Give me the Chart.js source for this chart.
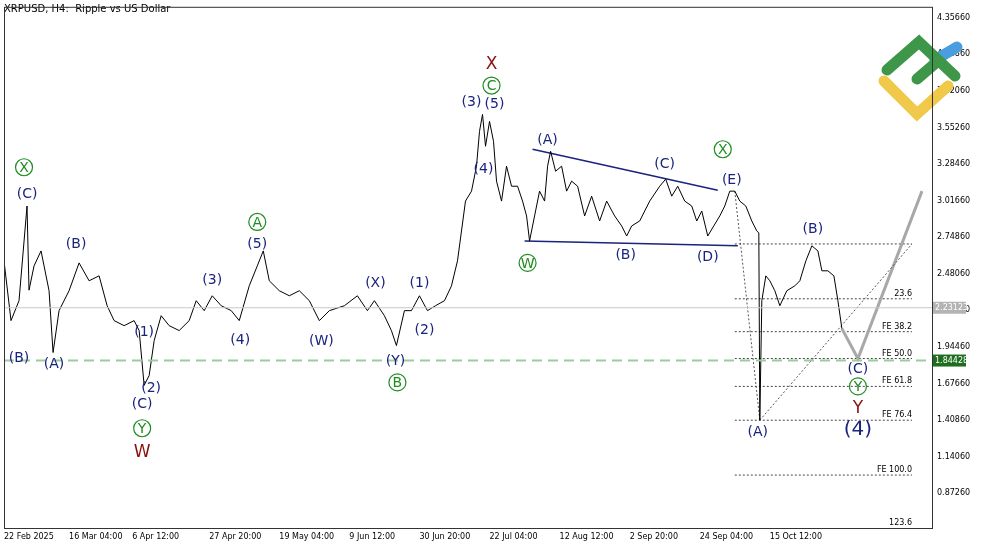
<!DOCTYPE html>
<html><head><meta charset="utf-8">
<script src="https://cdn.jsdelivr.net/npm/chart.js@4.4.1/dist/chart.umd.min.js"></script>
<style>html,body{margin:0;background:#fff}#wrap{width:1000px;height:545px}</style>
</head><body><div id="wrap"><canvas id="c"></canvas></div>
<script>
// price path (x = bar column, y = price)
const priceX = [5,12,20,28,30,35,42,50,54,60,70,80,90,100,108,115,125,135,140,145,150,155,162,170,180,190,197,205,213,222,232,240,250,258,264,270,280,290,300,310,320,330,345,358,368,375,385,392,397,405,412,420,428,436,445,452,458,462,466,472,477,480,483,486,490,494,497,502,507,512,518,523,527,530,535,540,545,548,551,556,562,567,572,578,585,592,600,607,615,622,627,632,640,650,660,666,672,678,685,692,697,702,708,714,720,725,730,735,740,746,752,757,759,760,762,766,770,775,780,787,795,800,806,812,818,822,828,834,838,842];
const priceY = [2.575,2.137,2.283,2.977,2.360,2.538,2.648,2.356,1.903,2.210,2.356,2.560,2.429,2.465,2.246,2.137,2.100,2.137,2.064,1.662,1.735,1.991,2.173,2.100,2.064,2.137,2.283,2.210,2.319,2.246,2.210,2.137,2.392,2.538,2.648,2.429,2.356,2.319,2.356,2.283,2.137,2.210,2.246,2.319,2.210,2.283,2.173,2.064,1.954,2.210,2.210,2.319,2.210,2.246,2.283,2.392,2.575,2.794,3.013,3.086,3.269,3.524,3.648,3.415,3.597,3.451,3.159,3.013,3.269,3.122,3.122,3.013,2.904,2.721,2.904,3.086,3.013,3.269,3.378,3.232,3.269,3.086,3.159,3.122,2.904,3.049,2.867,3.013,2.904,2.831,2.757,2.831,2.867,3.013,3.122,3.174,3.049,3.122,3.013,2.977,2.867,2.940,2.757,2.831,2.904,2.977,3.086,3.086,3.013,2.977,2.867,2.794,2.780,1.407,2.283,2.465,2.429,2.356,2.246,2.356,2.392,2.429,2.575,2.685,2.648,2.502,2.502,2.465,2.283,2.078];

const yTicks = [0.87260,1.14060,1.40860,1.67660,1.94460,2.21260,2.48060,2.74860,3.01660,3.28460,3.55260,3.82060,4.08860,4.35660];
const xTickPos = [5,70,133,210,280,350,420,490,560,630,700,770];
const xTickText = ['22 Feb 2025','16 Mar 04:00','6 Apr 12:00','27 Apr 20:00','19 May 04:00','9 Jun 12:00','30 Jun 20:00','22 Jul 04:00','12 Aug 12:00','2 Sep 20:00','24 Sep 04:00','15 Oct 12:00'];

const fibLevels = [2.699,2.297,2.056,1.859,1.655,1.407,1.005];
const fibNames = ['','23.6','FE 38.2','FE 50.0','FE 61.8','FE 76.4','FE 100.0'];
const bidPrice = 2.23123, linePrice = 1.84428;

// wave labels: [text, x, price, kind]  kind: n=navy, c=circled green, r=red, b=big navy
const waveLabels = [
  ['X',25,3.261,'c'],['(C)',28,3.071,'n'],['(B)',20,1.867,'n'],['(A)',55,1.823,'n'],['(B)',77,2.706,'n'],
  ['(1)',145,2.056,'n'],['(2)',152,1.647,'n'],['(C)',143,1.531,'n'],['Y',143,1.348,'c'],['W',143,1.180,'r'],
  ['(3)',213,2.443,'n'],['(4)',241,1.998,'n'],['A',258,2.860,'c'],['(5)',258,2.706,'n'],
  ['(W)',322,1.991,'n'],['(X)',376,2.414,'n'],['(1)',420,2.414,'n'],['(2)',425,2.071,'n'],['(Y)',396,1.844,'n'],['B',398,1.684,'c'],
  ['(3)',472,3.743,'n'],['(5)',495,3.729,'n'],['C',492,3.860,'c'],['X',492,4.021,'r'],['(4)',484,3.254,'n'],
  ['W',528,2.560,'c'],['(A)',548,3.466,'n'],['(B)',626,2.626,'n'],['(C)',665,3.290,'n'],['X',723,3.393,'c'],
  ['(E)',732,3.174,'n'],['(D)',708,2.611,'n'],['(B)',813,2.816,'n'],['(A)',758,1.326,'n'],
  ['(C)',858,1.786,'n'],['Y',858,1.655,'c'],['Y',858,1.501,'r'],['(4)',858,1.341,'b']
];

const line = (pts, color, width, dash) => ({type:'line', data:pts, borderColor:color, borderWidth:width, borderDash:dash||[], pointRadius:0, tension:0, fill:false});

const datasets = [
  line([{x:5,y:bidPrice},{x:932,y:bidPrice}], '#c8c8c8', 1),
  line([{x:5,y:linePrice},{x:932,y:linePrice}], '#9ccc9c', 2, [10,6]),
  line(priceX.map((x,i)=>({x, y:priceY[i]})), '#000', 1),
  line([{x:533,y:3.393},{x:718,y:3.093}], '#1a237e', 1.5),
  line([{x:525,y:2.721},{x:738,y:2.685}], '#1a237e', 1.5),
  line([{x:735,y:3.086},{x:760,y:1.407}], '#555', 1, [2,2]),
  line([{x:760,y:1.407},{x:912,y:2.699}], '#555', 1, [2,2]),
  line([{x:842,y:2.078},{x:858,y:1.859},{x:922,y:3.086}], '#a8a8a8', 3)
];
fibLevels.forEach(v => datasets.push(line([{x:735,y:v},{x:912,y:v}], '#444', 1, [2,2])));

const overlay = {
  id:'overlay',
  afterDraw(chart) {
    const {ctx, scales:{x, y}, chartArea:a} = chart;
    ctx.save();
    ctx.font = '10px "DejaVu Sans", sans-serif';
    ctx.fillStyle = '#000';
    ctx.textBaseline = 'top';
    ctx.fillText('XRPUSD, H4:  Ripple vs US Dollar', 4, 4);
    // fib labels
    ctx.font = '8px "DejaVu Sans", sans-serif';
    ctx.textAlign = 'right'; ctx.textBaseline = 'bottom';
    fibLevels.forEach((v,i) => ctx.fillText(fibNames[i], 912, y.getPixelForValue(v) - 1));
    ctx.fillText('123.6', 912, a.bottom - 1);
    // wave labels
    ctx.textAlign = 'center'; ctx.textBaseline = 'middle';
    waveLabels.forEach(([t, xv, pv, k]) => {
      const px = x.getPixelForValue(xv), py = y.getPixelForValue(pv);
      if (k === 'c') {
        ctx.strokeStyle = '#1e8c1e'; ctx.lineWidth = 1.2;
        ctx.beginPath(); ctx.arc(px, py, 8.5, 0, Math.PI*2); ctx.stroke();
        ctx.fillStyle = '#1e8c1e'; ctx.font = '14px "DejaVu Sans", sans-serif';
      } else if (k === 'r') {
        ctx.fillStyle = '#8b1010'; ctx.font = '17px "DejaVu Sans", sans-serif';
      } else if (k === 'b') {
        ctx.fillStyle = '#1a237e'; ctx.font = '20px "DejaVu Sans", sans-serif';
      } else {
        ctx.fillStyle = '#1a237e'; ctx.font = '14px "DejaVu Sans", sans-serif';
      }
      ctx.fillText(t, px, py + 1);
    });
    // logo
    ctx.lineCap = 'round'; ctx.lineWidth = 11;
    ctx.strokeStyle = '#4a9ee0';
    ctx.beginPath(); ctx.moveTo(935,60); ctx.lineTo(957,47); ctx.stroke();
    ctx.strokeStyle = '#f0c84a';
    ctx.beginPath(); ctx.moveTo(884,81); ctx.lineTo(917,114); ctx.lineTo(948,86); ctx.stroke();
    ctx.strokeStyle = '#3e9648';
    ctx.beginPath(); ctx.moveTo(887,70); ctx.lineTo(919,42); ctx.lineTo(955,76); ctx.stroke();
    ctx.beginPath(); ctx.moveTo(917,79); ctx.lineTo(938,61); ctx.stroke();
    // price boxes
    ctx.font = '8px "DejaVu Sans", sans-serif'; ctx.textAlign = 'left';
    [[bidPrice,'#b4b4b4','2.23123'],[linePrice,'#1f6e1f','1.84428']].forEach(([v,c,t]) => {
      const py = y.getPixelForValue(v);
      ctx.fillStyle = c; ctx.fillRect(a.right + 1, py - 6, 33, 12);
      ctx.fillStyle = '#fff'; ctx.fillText(t, a.right + 3, py);
    });
    // frame
    ctx.strokeStyle = '#333'; ctx.lineWidth = 1;
    ctx.strokeRect(a.left + 0.5, a.top + 0.5, a.right - a.left, a.bottom - a.top);
    ctx.restore();
  }
};

new Chart(document.getElementById('c'), {
  type:'line',
  data:{datasets},
  options:{
    responsive:true, maintainAspectRatio:false, animation:false,
    layout:{padding:{left:4, top:5, right:0, bottom:0}},
    plugins:{legend:{display:false}, tooltip:{enabled:false}},
    scales:{
      x:{type:'linear', min:5, max:932,
        afterBuildTicks:s => { s.ticks = xTickPos.map(v => ({value:v})); },
        afterFit:s => { s.height = 17; },
        grid:{display:false, drawTicks:false}, border:{display:false},
        ticks:{align:'start', maxRotation:0, autoSkip:false, padding:4, color:'#000', font:{size:8, family:'DejaVu Sans'},
          callback:v => xTickText[xTickPos.indexOf(v)]}},
      y:{position:'right', min:0.617, max:4.437,
        afterBuildTicks:s => { s.ticks = yTicks.map(v => ({value:v})); },
        afterFit:s => { s.width = 68; },
        grid:{display:false, drawOnChartArea:false, drawTicks:true, tickLength:3, color:'#333'}, border:{display:false},
        ticks:{padding:2, color:'#000', font:{size:8, family:'DejaVu Sans'}, callback:v => v.toFixed(5)}}
    }
  },
  plugins:[overlay]
});
</script></body></html>
